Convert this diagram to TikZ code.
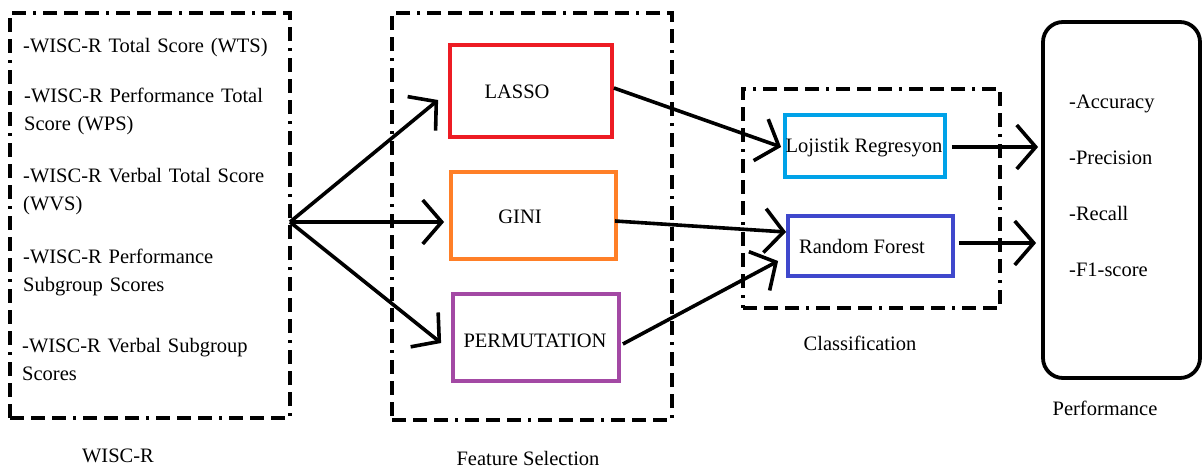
\documentclass[tikz,border=0pt]{standalone}
\usepackage{fontspec}
\setmainfont{Liberation Serif}
\usetikzlibrary{arrows.meta,calc}
\definecolor{pred}{HTML}{ED1C24}
\definecolor{porange}{HTML}{FF7F27}
\definecolor{ppurple}{HTML}{A349A4}
\definecolor{pcyan}{HTML}{00A2E8}
\definecolor{pblue}{HTML}{3F48CC}
\tikzset{
  txt/.style={inner sep=0pt, font=\fontsize{20.5}{28}\selectfont},
  grp/.style={draw=black, line width=3.8pt, dash pattern=on 14pt off 7pt on 14pt off 7pt on 14pt off 7pt on 3pt off 7pt},
  cbox/.style={draw=#1, line width=3.8pt, inner sep=0pt},
  arr/.style={line width=3.6pt, -{Straight Barb[length=19pt,width=44pt,line width=3.6pt]}},
}
\begin{document}
\begin{tikzpicture}[x=1pt,y=-1pt]
\useasboundingbox[fill=white] (0,0) rectangle (1203,469);
% groups
\node[grp, minimum width=280pt, minimum height=405pt, inner sep=0pt] (wisc) at (150,215.5) {};
\node[grp, minimum width=280pt, minimum height=407pt, inner sep=0pt] (fsel) at (532,216.5) {};
\node[grp, minimum width=257pt, minimum height=219pt, inner sep=0pt] (clsg) at (871.5,198.5) {};
\node[draw, line width=3.8pt, rounded corners=20pt, minimum width=157pt, minimum height=356pt, inner sep=0pt] (perf) at (1121.5,200) {};
% WISC-R items
\node[txt, anchor=base west, text width=265pt, align=left] (w1) at (23,52) {-WISC-R Total Score (WTS)};
\node[txt, anchor=base west, text width=265pt, align=left] (w2) at (24,102) {-WISC-R Performance Total\\Score (WPS)};
\node[txt, anchor=base west, text width=265pt, align=left] (w3) at (23,182) {-WISC-R Verbal Total Score\\(WVS)};
\node[txt, anchor=base west, text width=265pt, align=left] (w4) at (23,263) {-WISC-R Performance\\Subgroup Scores};
\node[txt, anchor=base west, text width=265pt, align=left] (w5) at (22,352) {-WISC-R Verbal Subgroup\\Scores};
% group labels
\node[txt, anchor=base] (lw) at (118,462) {WISC-R};
\node[txt, anchor=base] (lf) at (528,465) {Feature Selection};
\node[txt, anchor=base] (lc) at (860,350) {Classification};
\node[txt, anchor=base] (lp) at (1105,415) {Performance};
% feature selection boxes
\node[cbox=pred, minimum width=162pt, minimum height=92pt] (lasso) at (531,91) {};
\node[txt, anchor=base] (tlasso) at (517,98) {LASSO};
\node[cbox=porange, minimum width=165pt, minimum height=87pt] (gini) at (533.5,215.5) {};
\node[txt, anchor=base] (tgini) at (520,223) {GINI};
\node[cbox=ppurple, minimum width=166pt, minimum height=87pt] (perm) at (536,337.5) {};
\node[txt, anchor=base] (tperm) at (535,347) {PERMUTATION};
% classifiers
\node[cbox=pcyan, minimum width=160pt, minimum height=62pt] (lr) at (865,146) {};
\node[txt, anchor=base] (tlr) at (864,152) {Lojistik Regresyon};
\node[cbox=pblue, minimum width=165pt, minimum height=60pt] (rf) at (870.5,246) {};
\node[txt, anchor=base] (trf) at (862,253) {Random Forest};
% performance metrics
\node[txt, anchor=base west, text width=120pt, align=left, font=\fontsize{20.5}{56.3}\selectfont] (pm) at (1069,108) {-Accuracy\\-Precision\\-Recall\\-F1-score};
% arrows
\coordinate (src) at (290,222);
\draw[arr] (src) -- ($(lasso.west)+(-10,9)$);
\draw[arr] (src) -- ($(gini.west)+(-5,6.5)$);
\draw[arr] (src) -- ($(perm.west)+(-10,5.5)$);
\draw[arr] ($(lasso.east)+(0,-3)$) -- ($(lr.west)+(-2,1)$);
\draw[arr] ($(gini.east)+(-3,5.5)$) -- ($(rf.west)+(0,-14)$);
\draw[arr] ($(perm.east)+(2,6.5)$) -- ($(rf.west)+(-8,15)$);
\draw[arr] ($(lr.east)+(5,1)$) -- ($(lr.east -| perf.west)+(-3,1)$);
\draw[arr] ($(rf.east)+(4,-3)$) -- ($(rf.east -| perf.west)+(-5,-3)$);
\end{tikzpicture}
\end{document}
